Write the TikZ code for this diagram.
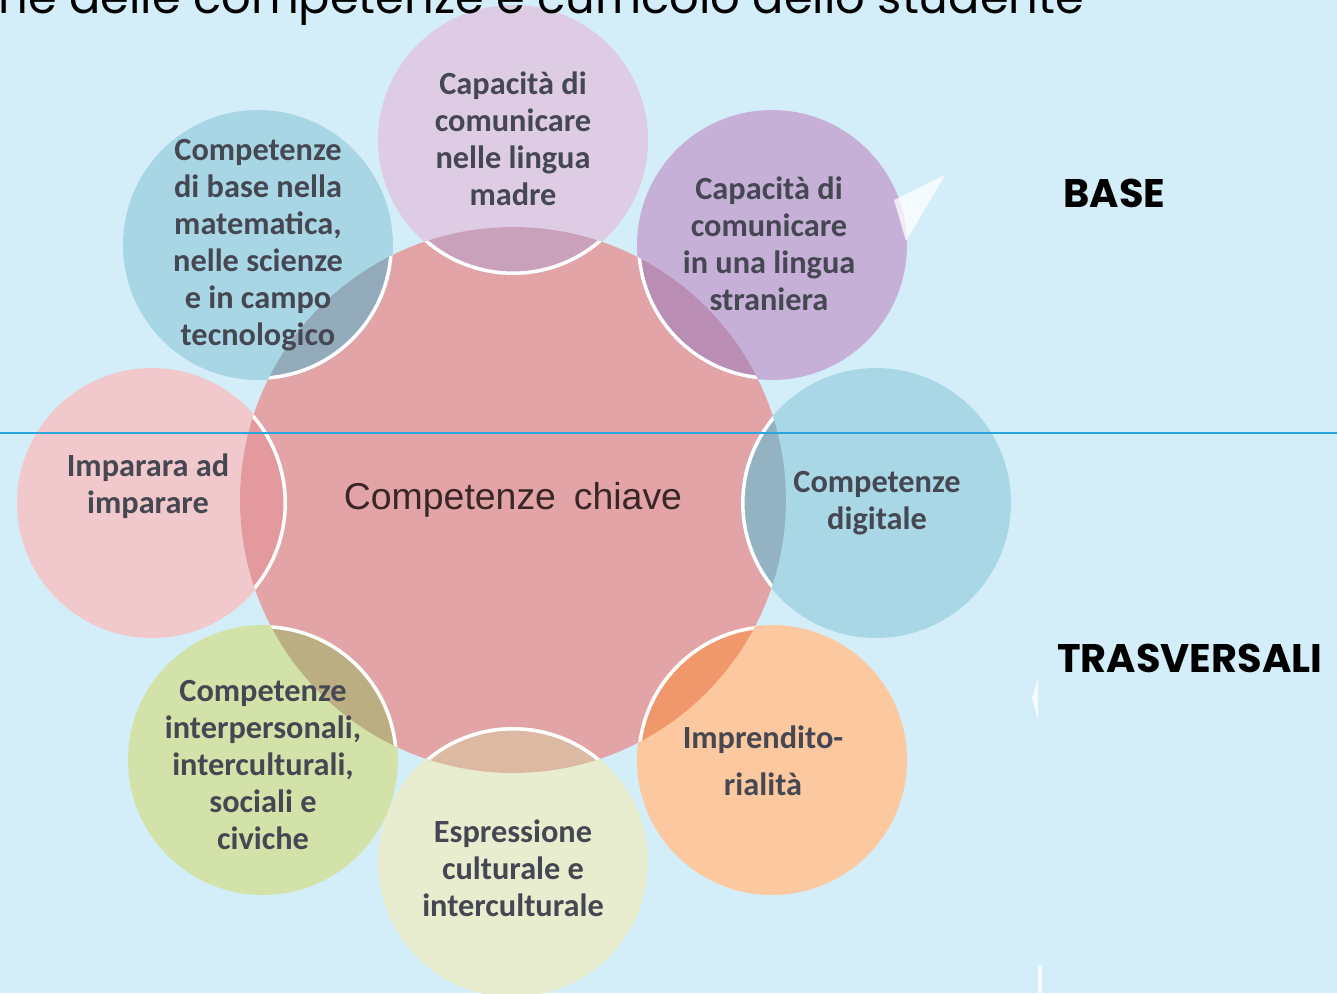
\documentclass[tikz,border=0pt]{standalone}
\usepackage{fontspec}
\setmainfont{Carlito}
\newfontfamily\arialfont{Liberation Sans}
\newfontfamily\gothicfont{Poppins}
\usepackage{xcolor}
\definecolor{sfondo}{HTML}{D4EEF9}
\definecolor{linea}{HTML}{2AA5DE}
\definecolor{disco}{HTML}{E2A4A6}
\definecolor{testo}{HTML}{454752}
\definecolor{chiavetxt}{HTML}{3A2527}
\definecolor{cMadre}{HTML}{DECCE4}\definecolor{lMadre}{HTML}{C9A1BA}
\definecolor{cStran}{HTML}{C6B0D8}\definecolor{lStran}{HTML}{B98DB4}
\definecolor{cDigit}{HTML}{A9D7E6}\definecolor{lDigit}{HTML}{93B2C2}
\definecolor{cImpre}{HTML}{FBC8A0}\definecolor{lImpre}{HTML}{F1976C}
\definecolor{cEspre}{HTML}{E8EDCF}\definecolor{lEspre}{HTML}{DCB9A2}
\definecolor{cInter}{HTML}{D3E2A9}\definecolor{lInter}{HTML}{BBAE82}
\definecolor{cImpar}{HTML}{F1C9CC}\definecolor{lImpar}{HTML}{E3999E}
\definecolor{cMatem}{HTML}{A9D6E5}\definecolor{lMatem}{HTML}{93AABA}

\begin{document}
\begin{tikzpicture}[x=0.02cm,y=-0.02cm,
   disk/.style={circle,fill=disco,minimum size=10.92cm,inner sep=0pt,
      font=\arialfont\fontsize{21.3}{24}\selectfont,text=chiavetxt},
   comp/.style={circle,fill=#1,minimum size=5.4cm,inner sep=0pt},
   lens/.style={path picture={\fill[#1] (chiave.center) circle[radius=5.46cm];
      \begin{scope}\clip (chiave.center) circle[radius=5.46cm];
      \draw[white,line width=4pt] (path picture bounding box.center) circle[radius=2.7cm];
      \end{scope}}},
   comptext/.style={align=center,text=testo,inner sep=0pt,
      font=\bfseries\fontsize{18.4}{21}\selectfont},
   side/.style={anchor=west,inner sep=0pt,font=\gothicfont\bfseries\fontsize{22.7}{26}\selectfont}]
\useasboundingbox (0,0) rectangle (1337,993);
\fill[sfondo] (0,0) rectangle (1337,993);

\node[disk] (chiave) at (513,500) {Competenze\hspace{.2em} chiave};

\node[comp=cMadre,lens=lMadre] (madre) at (513,140) {};
\node[comptext] (madreT) at (513,139) {Capacità di\\comunicare\\nelle lingua\\madre};
\node[comp=cStran,lens=lStran] (stran) at (772,245) {};
\node[comptext] (stranT) at (769,244) {Capacità di\\comunicare\\in una lingua\\straniera};
\node[comp=cDigit,lens=lDigit] (digit) at (876,503) {};
\node[comptext] (digitT) at (877,503) {Competenze\\digitale};
\node[comp=cImpre,lens=lImpre] (impre) at (772,760) {};
\node[comptext,font=\bfseries\fontsize{18.4}{27}\selectfont] (impreT) at (763,761) {Imprendito-\\rialità};
\node[comp=cEspre,lens=lEspre] (espre) at (513,862) {};
\node[comptext] (espreT) at (513,868) {Espressione\\culturale e\\interculturale};
\node[comp=cInter,lens=lInter] (inter) at (263,760) {};
\node[comptext] (interT) at (263,765) {Competenze\\interpersonali,\\interculturali,\\sociali e\\civiche};
\node[comp=cImpar,lens=lImpar] (impar) at (152,503) {};
\node[comptext] (imparT) at (148,486) {Imparara ad\\imparare};
\node[comp=cMatem,lens=lMatem] (matem) at (258,245) {};
\node[comptext] (matemT) at (258,245) {Competenze\\di base nella\\matematica,\\nelle scienze\\e in campo\\tecnologico};

\node[anchor=base west,inner sep=0pt,font=\gothicfont\fontsize{26.4}{28}\selectfont] (titolo) at (-2,14) {ne delle competenze e curricolo dello studente};

\node[side] (base) at (1063,193) {BASE};
\node[side] (trasv) at (1057,658) {TRASVERSALI};

\coordinate (lineaA) at (0,433);
\coordinate (lineaB) at (1337,433);
\draw[linea,line width=1.2pt] (lineaA) -- (lineaB);

\fill[white,opacity=.75] (945,175) -- (894,200) -- (906,241) -- cycle;
\fill[white,opacity=.8] (1038,678) -- (1032,698) -- (1038,720) -- cycle;
\fill[white,opacity=.8] (1038,965) rectangle (1042,993);
\end{tikzpicture}
\end{document}
